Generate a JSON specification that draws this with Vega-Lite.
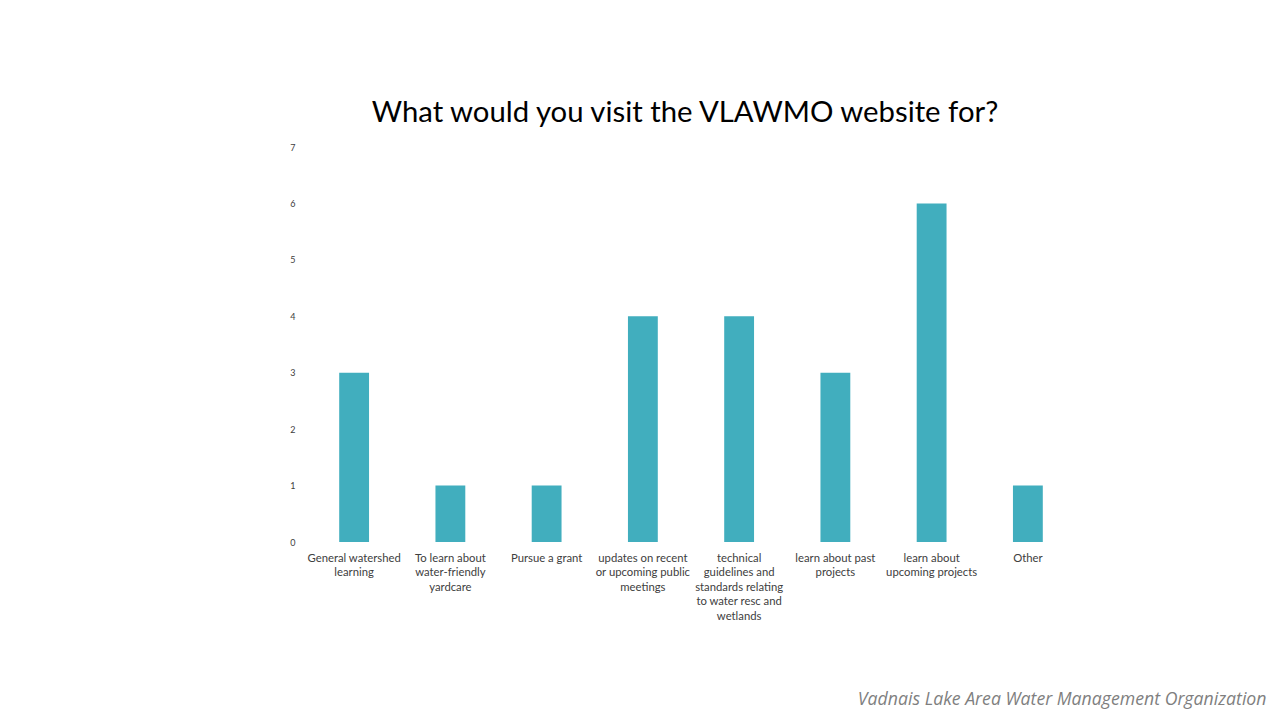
{
  "$schema": "https://vega.github.io/schema/vega-lite/v6.json",
  "autosize": {"type": "none"},
  "padding": {"left": 306, "top": 147, "right": 207, "bottom": 179},
  "width": 770,
  "height": 395,
  "background": "white",
  "title": {
    "text": "What would you visit the VLAWMO website for?",
    "font": "Lato",
    "fontSize": 29.3,
    "fontWeight": "normal",
    "color": "#000000",
    "offset": 15,
    "dx": -6
  },
  "data": {
    "values": [
      {"category": "General watershed learning", "count": 3},
      {"category": "To learn about water-friendly yardcare", "count": 1},
      {"category": "Pursue a grant", "count": 1},
      {"category": "updates on recent or upcoming public meetings", "count": 4},
      {"category": "technical guidelines and standards relating to water resc and wetlands", "count": 4},
      {"category": "learn about past projects", "count": 3},
      {"category": "learn about upcoming projects", "count": 6},
      {"category": "Other", "count": 1}
    ]
  },
  "mark": {"type": "bar", "color": "#41AEBE"},
  "encoding": {
    "x": {
      "field": "category",
      "type": "nominal",
      "sort": null,
      "scale": {"paddingInner": 0.69, "paddingOuter": 0.345},
      "axis": {
        "title": "Vadnais Lake Area Water Management Organization",
        "titleFont": "Open Sans",
        "titleFontStyle": "italic",
        "titleFontWeight": "normal",
        "titleFontSize": 17.7,
        "titleColor": "#7F7F7F",
        "titleAlign": "right",
        "titleAnchor": "start",
        "titleX": 960,
        "titleY": 162,
        "titleBaseline": "alphabetic",
        "labelAngle": 0,
        "labelFont": "Lato",
        "labelFontSize": 11.3,
        "labelColor": "#404040",
        "labelPadding": 10,
        "labelLineHeight": 14.5,
        "labelBaseline": "top",
        "labelLimit": 200,
        "domain": false,
        "ticks": false,
        "labelExpr": "({'General watershed learning': ['General watershed', 'learning'], 'To learn about water-friendly yardcare': ['To learn about', 'water-friendly', 'yardcare'], 'Pursue a grant': ['Pursue a grant'], 'updates on recent or upcoming public meetings': ['updates on recent', 'or upcoming public', 'meetings'], 'technical guidelines and standards relating to water resc and wetlands': ['technical', 'guidelines and', 'standards relating', 'to water resc and', 'wetlands'], 'learn about past projects': ['learn about past', 'projects'], 'learn about upcoming projects': ['learn about', 'upcoming projects'], 'Other': ['Other']})[datum.value]"
      }
    },
    "y": {
      "field": "count",
      "type": "quantitative",
      "scale": {"domain": [0, 7], "nice": false},
      "axis": {
        "title": null,
        "values": [0, 1, 2, 3, 4, 5, 6, 7],
        "grid": false,
        "domain": false,
        "ticks": false,
        "labelFont": "Lato",
        "labelFontSize": 9,
        "labelColor": "#404040",
        "labelPadding": 11
      }
    }
  },
  "config": {"view": {"stroke": null}}
}
